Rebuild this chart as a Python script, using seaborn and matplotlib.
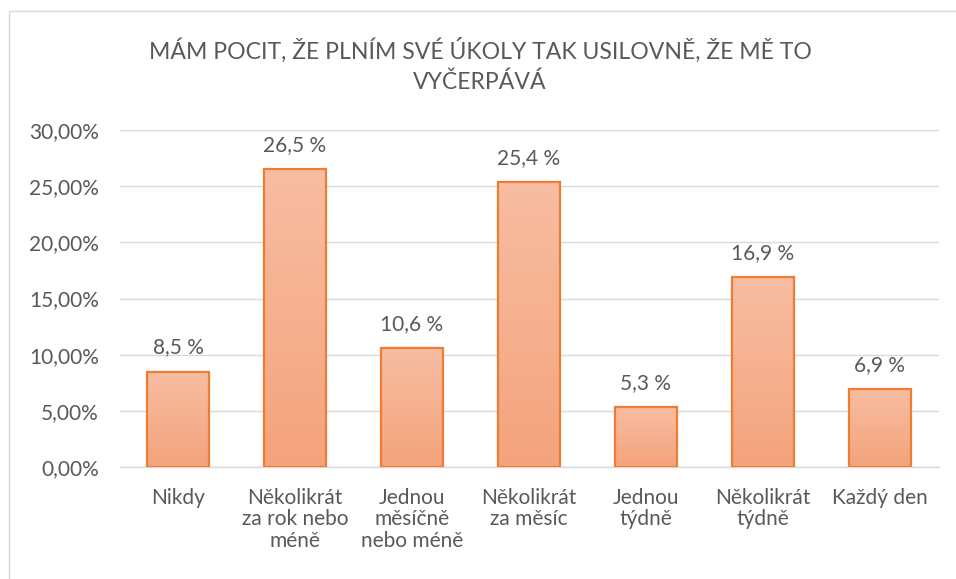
import matplotlib
matplotlib.use("Agg")
import matplotlib.pyplot as plt
import numpy as np
import pandas as pd
import seaborn as sns
from matplotlib.colors import LinearSegmentedColormap
from matplotlib.patches import Rectangle

## Data ##
categories = ["Nikdy", "Několikrát\nza rok nebo\nméně", "Jednou\nměsíčně\nnebo méně",
              "Několikrát\nza měsíc", "Jednou\ntýdně", "Několikrát\ntýdně", "Každý den"]
values = [8.5, 26.5, 10.6, 25.4, 5.3, 16.9, 6.9]
yticks = [0, 5, 10, 15, 20, 25, 30]
title = "MÁM POCIT, ŽE PLNÍM SVÉ ÚKOLY TAK USILOVNĚ, ŽE MĚ TO\nVYČERPÁVÁ"

df = pd.DataFrame({"kategorie": categories, "hodnota": values})

sns.set_theme(style="white")
plt.rcParams["font.family"] = ["Lato", "DejaVu Sans"]

text_color = "#595959"
grid_color = "#D9D9D9"
edge_color = "#ED7D31"

fig = plt.figure(figsize=(9.56, 5.79), dpi=100)
ax = fig.add_axes([119.5 / 956, 1 - 467 / 579, (938.5 - 119.5) / 956, (467 - 130) / 579])

sns.barplot(data=df, x="kategorie", y="hodnota", ax=ax, width=0.53,
            color="#F6AD8A", edgecolor=edge_color, linewidth=1.6, zorder=3)

## Gradient fill inside the bars ##
cmap = LinearSegmentedColormap.from_list("grad", ["#F4A37C", "#F8BDA2"])
grad = np.linspace(0, 1, 256).reshape(-1, 1)
for patch in ax.patches:
    x0, y0 = patch.get_x(), patch.get_y()
    w, h = patch.get_width(), patch.get_height()
    im = ax.imshow(grad, cmap=cmap, aspect="auto", origin="lower",
                   extent=[x0, x0 + w, y0, y0 + h], zorder=2.5)
    im.set_clip_path(patch)
    patch.set_facecolor("none")
ax.set_xlim(-0.5, len(categories) - 0.5)
ax.set_ylim(0, 30)

## Data labels ##
for i, v in enumerate(values):
    ax.text(i, v + 1.6, f"{v:.1f} %".replace(".", ","), ha="center", va="baseline",
            fontsize=15, color=text_color)

## Axes styling ##
ax.set_yticks(yticks)
ax.set_yticklabels([f"{t:.2f}%".replace(".", ",") for t in yticks], fontsize=15, color=text_color)
ax.set_xticks(range(len(categories)))
ax.set_xticklabels(categories, fontsize=15, color=text_color, linespacing=1.1)
ax.yaxis.grid(True, color=grid_color, linewidth=1, zorder=0)
ax.set_axisbelow(True)
for s in ["top", "right", "left"]:
    ax.spines[s].set_visible(False)
ax.spines["bottom"].set_color(grid_color)
ax.spines["bottom"].set_linewidth(1)
ax.tick_params(axis="y", length=0, pad=15)
ax.tick_params(axis="x", length=0, pad=15)
ax.set_xlabel("")
ax.set_ylabel("")

fig.text(480 / 956, 1 - 65 / 579, title, ha="center", va="center",
         fontsize=16.6, color=text_color, linespacing=1.5)

## Chart border ##
fig.patches.append(Rectangle((9 / 956, -0.1), 1.2, 1 - 11 / 579 + 0.1, transform=fig.transFigure,
                             fill=False, edgecolor=grid_color, linewidth=1))

fig.savefig("out.png", dpi=100)
